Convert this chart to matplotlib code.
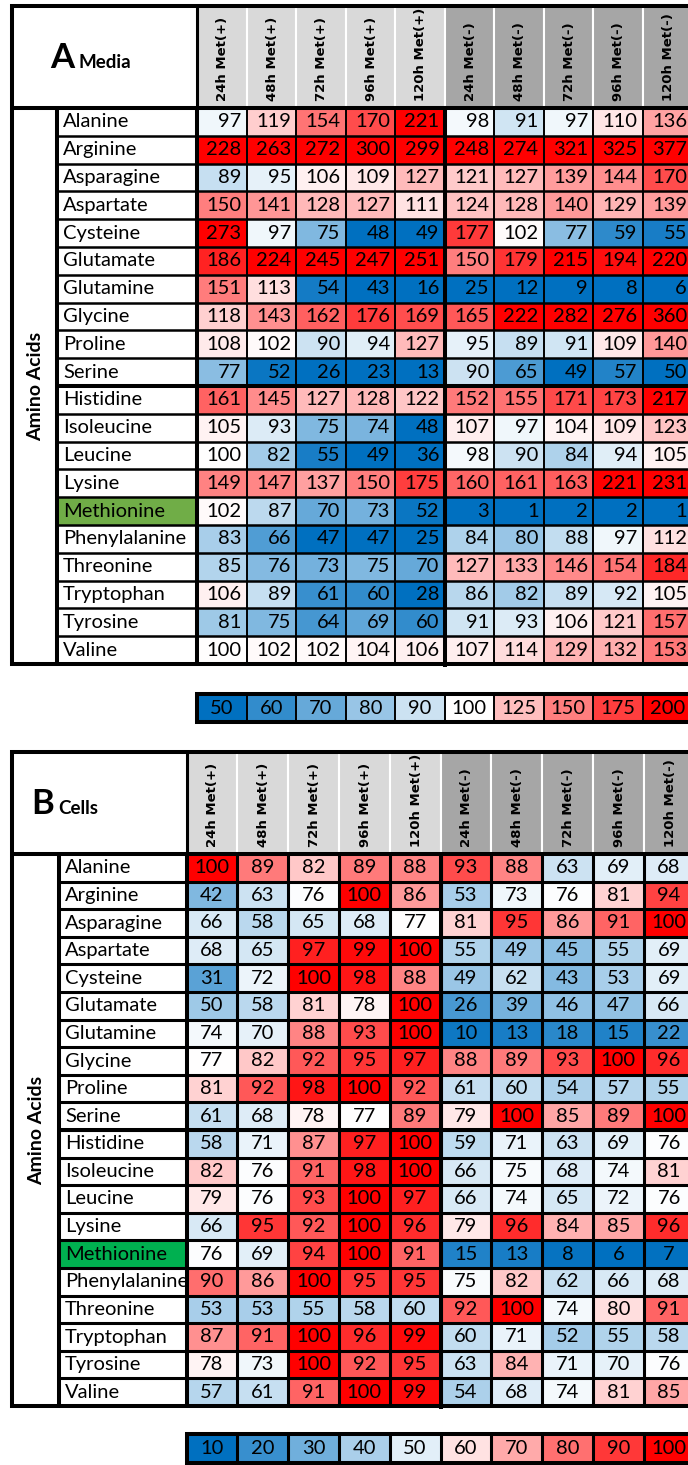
import numpy as np
import matplotlib.pyplot as plt
from matplotlib.colors import LinearSegmentedColormap, TwoSlopeNorm
from matplotlib.patches import Rectangle

amino_acids = ['Alanine', 'Arginine', 'Asparagine', 'Aspartate', 'Cysteine',
               'Glutamate', 'Glutamine', 'Glycine', 'Proline', 'Serine',
               'Histidine', 'Isoleucine', 'Leucine', 'Lysine', 'Methionine',
               'Phenylalanine', 'Threonine', 'Tryptophan', 'Tyrosine', 'Valine']
columns = ['24h Met(+)', '48h Met(+)', '72h Met(+)', '96h Met(+)', '120h Met(+)',
           '24h Met(-)', '48h Met(-)', '72h Met(-)', '96h Met(-)', '120h Met(-)']

media = np.array([
    [97, 119, 154, 170, 221, 98, 91, 97, 110, 136],
    [228, 263, 272, 300, 299, 248, 274, 321, 325, 377],
    [89, 95, 106, 109, 127, 121, 127, 139, 144, 170],
    [150, 141, 128, 127, 111, 124, 128, 140, 129, 139],
    [273, 97, 75, 48, 49, 177, 102, 77, 59, 55],
    [186, 224, 245, 247, 251, 150, 179, 215, 194, 220],
    [151, 113, 54, 43, 16, 25, 12, 9, 8, 6],
    [118, 143, 162, 176, 169, 165, 222, 282, 276, 360],
    [108, 102, 90, 94, 127, 95, 89, 91, 109, 140],
    [77, 52, 26, 23, 13, 90, 65, 49, 57, 50],
    [161, 145, 127, 128, 122, 152, 155, 171, 173, 217],
    [105, 93, 75, 74, 48, 107, 97, 104, 109, 123],
    [100, 82, 55, 49, 36, 98, 90, 84, 94, 105],
    [149, 147, 137, 150, 175, 160, 161, 163, 221, 231],
    [102, 87, 70, 73, 52, 3, 1, 2, 2, 1],
    [83, 66, 47, 47, 25, 84, 80, 88, 97, 112],
    [85, 76, 73, 75, 70, 127, 133, 146, 154, 184],
    [106, 89, 61, 60, 28, 86, 82, 89, 92, 105],
    [81, 75, 64, 69, 60, 91, 93, 106, 121, 157],
    [100, 102, 102, 104, 106, 107, 114, 129, 132, 153],
])

cells = np.array([
    [100, 89, 82, 89, 88, 93, 88, 63, 69, 68],
    [42, 63, 76, 100, 86, 53, 73, 76, 81, 94],
    [66, 58, 65, 68, 77, 81, 95, 86, 91, 100],
    [68, 65, 97, 99, 100, 55, 49, 45, 55, 69],
    [31, 72, 100, 98, 88, 49, 62, 43, 53, 69],
    [50, 58, 81, 78, 100, 26, 39, 46, 47, 66],
    [74, 70, 88, 93, 100, 10, 13, 18, 15, 22],
    [77, 82, 92, 95, 97, 88, 89, 93, 100, 96],
    [81, 92, 98, 100, 92, 61, 60, 54, 57, 55],
    [61, 68, 78, 77, 89, 79, 100, 85, 89, 100],
    [58, 71, 87, 97, 100, 59, 71, 63, 69, 76],
    [82, 76, 91, 98, 100, 66, 75, 68, 74, 81],
    [79, 76, 93, 100, 97, 66, 74, 65, 72, 76],
    [66, 95, 92, 100, 96, 79, 96, 84, 85, 96],
    [76, 69, 94, 100, 91, 15, 13, 8, 6, 7],
    [90, 86, 100, 95, 95, 75, 82, 62, 66, 68],
    [53, 53, 55, 58, 60, 92, 100, 74, 80, 91],
    [87, 91, 100, 96, 99, 60, 71, 52, 55, 58],
    [78, 73, 100, 92, 95, 63, 84, 71, 70, 76],
    [57, 61, 91, 100, 99, 54, 68, 74, 81, 85],
])

media_legend = [50, 60, 70, 80, 90, 100, 125, 150, 175, 200]
cells_legend = [10, 20, 30, 40, 50, 60, 70, 80, 90, 100]

cmap = LinearSegmentedColormap.from_list('excel_bwr', ['#0070C0', '#FFFFFF', '#FF0000'])

fig = plt.figure(figsize=(6.88, 14.65), dpi=100)
ax = fig.add_axes([0, 0, 1, 1])
ax.set_xlim(0, 688)
ax.set_ylim(1465, 0)
ax.axis('off')

TXT = 'Lato'
THICK = 2.9


def draw_panel(values, norm, align, letter, sub, green, leg_vals, leg_norm,
               top, head_bot, row_h, x_names, x_data, col_w, leg_top, leg_h,
               letter_x, row_lw, col_lw, left=12):
    n_rows, n_cols = values.shape
    xe = x_data + col_w * np.arange(n_cols + 1)
    ye = head_bot + row_h * np.arange(n_rows + 1)
    bottom, right = ye[-1], xe[-1]

    # column headers
    for j, name in enumerate(columns):
        fc = '#D9D9D9' if '(+)' in name else '#A6A6A6'
        ax.add_patch(Rectangle((xe[j], top), col_w, head_bot - top, fc=fc,
                               ec='white', lw=1.5, zorder=1))
        ax.text((xe[j] + xe[j + 1]) / 2 + 1, head_bot - 7, name, rotation=90,
                ha='center', va='bottom', fontsize=9.5, fontweight='bold',
                family='DejaVu Sans', zorder=3)

    # title
    base = (top + head_bot) / 2 + 11
    t = ax.text(letter_x, base, letter, fontsize=25, fontweight='bold',
                family=TXT, va='baseline', ha='left', zorder=3)
    ax.annotate(sub, xy=(1, base), xycoords=(t, 'data'), xytext=(3, 0),
                textcoords='offset points', fontsize=13.5, fontweight='bold',
                family=TXT, va='baseline', ha='left', zorder=3)

    ax.text((left + x_names) / 2 + 1, (head_bot + bottom) / 2, 'Amino Acids',
            rotation=90, ha='center', va='center', fontsize=14,
            fontweight='bold', family=TXT, zorder=3)

    # row names
    for i, aa in enumerate(amino_acids):
        yc = (ye[i] + ye[i + 1]) / 2
        if aa == 'Methionine':
            ax.add_patch(Rectangle((x_names, ye[i]), x_data - x_names, row_h,
                                   fc=green, ec='none', zorder=0.5))
        ax.text(x_names + 6, yc, aa, ha='left', va='center', fontsize=14.5,
                family=TXT, zorder=1)

    # heatmap cells
    ax.pcolormesh(xe, ye, values, cmap=cmap, norm=norm, zorder=2,
                  antialiased=False)
    for i in range(n_rows):
        yc = (ye[i] + ye[i + 1]) / 2
        for j in range(n_cols):
            if align == 'right':
                x, ha = xe[j + 1] - 5, 'right'
            else:
                x, ha = (xe[j] + xe[j + 1]) / 2, 'center'
            ax.text(x, yc, str(values[i, j]), ha=ha, va='center',
                    fontsize=14.5, family=TXT, zorder=4)

    # grid
    ax.hlines(ye[1:-1], x_names, right, colors='k', lw=row_lw, zorder=5)
    ax.hlines(ye[10], x_names, right, colors='k', lw=THICK, zorder=5)
    ax.vlines(xe[1:-1], head_bot, bottom, colors='k', lw=col_lw, zorder=5)
    ax.vlines(xe[5], head_bot, bottom + 3, colors='k', lw=THICK, zorder=5)
    ax.vlines([x_names, x_data], head_bot, bottom + 2, colors='k',
              lw=THICK, zorder=5)
    ax.vlines(x_data, top, head_bot, colors='k', lw=2.2, zorder=5)
    ax.hlines(head_bot, left, right, colors='k', lw=THICK, zorder=5)
    ax.plot([right + 5, left, left, right + 5], [top, top, bottom, bottom],
            color='k', lw=THICK, solid_joinstyle='miter', zorder=6)

    # legend strip
    lx = x_data + col_w * np.arange(len(leg_vals) + 1)
    ax.pcolormesh(lx, [leg_top, leg_top + leg_h], np.array([leg_vals]),
                  cmap=cmap, norm=leg_norm, zorder=2, antialiased=False)
    for k, v in enumerate(leg_vals):
        ax.text((lx[k] + lx[k + 1]) / 2, leg_top + leg_h / 2, str(v),
                ha='center', va='center', fontsize=14.5, family=TXT, zorder=4)
    ax.vlines(lx[1:-1], leg_top, leg_top + leg_h, colors='k', lw=col_lw,
              zorder=5)
    ax.plot([lx[-1] + 5, lx[0], lx[0], lx[-1] + 5],
            [leg_top, leg_top, leg_top + leg_h, leg_top + leg_h],
            color='k', lw=THICK, solid_joinstyle='miter', zorder=6)


# Panel A: fixed scale 50 / 100 / 200
draw_panel(media, TwoSlopeNorm(vmin=50, vcenter=100, vmax=200), 'right',
           'A', 'Media', '#70AD47', media_legend,
           TwoSlopeNorm(vmin=50, vcenter=100, vmax=200),
           top=6, head_bot=108, row_h=27.8, x_names=57, x_data=197,
           col_w=49.5, leg_top=694, leg_h=28, letter_x=50,
           row_lw=1.8, col_lw=1.4)

# Panel B: min / median / max scale
draw_panel(cells, TwoSlopeNorm(vmin=cells.min(), vcenter=np.median(cells),
                               vmax=cells.max()), 'center',
           'B', 'Cells', '#00B050', cells_legend,
           TwoSlopeNorm(vmin=10, vcenter=55, vmax=100),
           top=752, head_bot=854, row_h=27.6, x_names=59, x_data=186.5,
           col_w=50.8, leg_top=1434, leg_h=29, letter_x=31,
           row_lw=2.2, col_lw=2.2)

fig.savefig('out.png', dpi=100, facecolor='white')
